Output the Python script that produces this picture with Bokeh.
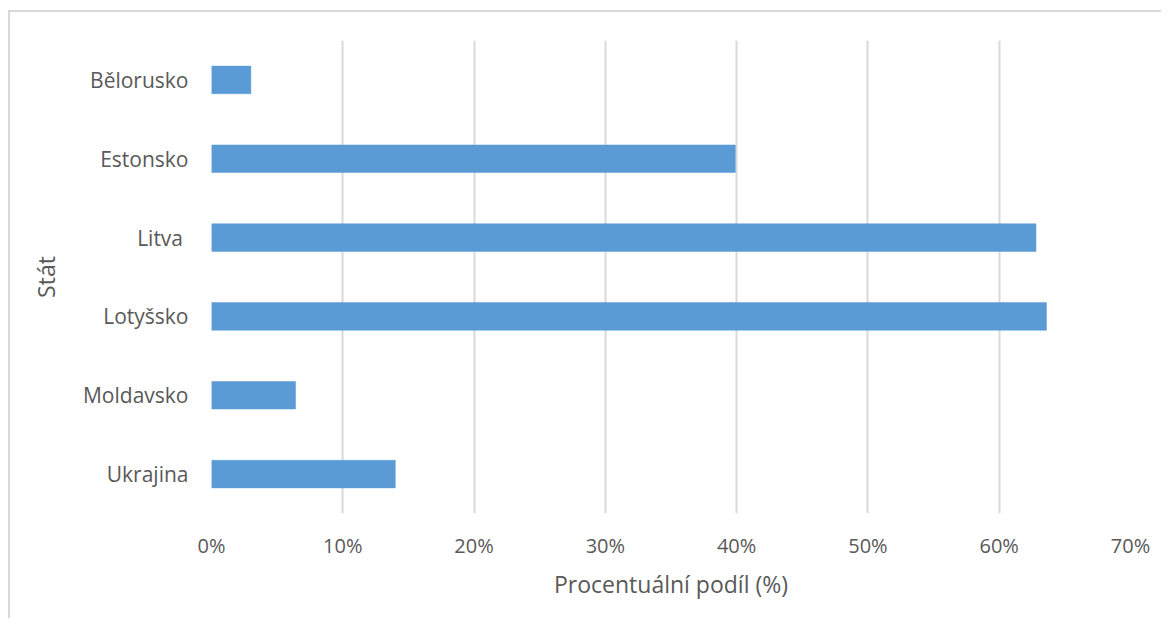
from bokeh.plotting import figure
from bokeh.models import ColumnDataSource, NumeralTickFormatter, FixedTicker
from bokeh.embed import file_html
from bokeh.resources import INLINE

countries = ["Bělorusko", "Estonsko", "Litva ", "Lotyšsko", "Moldavsko", "Ukrajina"]
shares = [0.030, 0.399, 0.628, 0.636, 0.064, 0.140]
x_ticks = [0, 0.1, 0.2, 0.3, 0.4, 0.5, 0.6, 0.7]

FONT = "Open Sans"
TXT = "#595959"

src = ColumnDataSource(dict(country=countries, share=shares))

p = figure(
    width=1153, height=608,
    y_range=list(reversed(countries)),
    x_range=(0, 0.7),
    output_backend="svg", toolbar_location=None,
    min_border_left=201, min_border_right=33,
    min_border_top=28, min_border_bottom=107,
)
p.margin = (10, 0, 0, 8)
p.styles = {"border-top": "2px solid #d9d9d9", "border-left": "2px solid #d9d9d9"}

p.hbar(y="country", right="share", left=0, height=0.35, source=src,
       fill_color="#5b9bd5", line_color="#5b9bd5", line_width=0.5)

p.outline_line_color = None
p.background_fill_color = "white"
p.border_fill_color = "white"

p.ygrid.grid_line_color = None
p.xgrid.grid_line_color = "#d9d9d9"
p.xgrid.grid_line_width = 2
p.xaxis.ticker = FixedTicker(ticks=x_ticks)
p.xaxis.formatter = NumeralTickFormatter(format="0%")

for ax in (p.xaxis, p.yaxis):
    ax.axis_line_color = None
    ax.major_tick_line_color = None
    ax.minor_tick_line_color = None
    ax.major_label_text_font = FONT
    ax.major_label_text_color = TXT
    ax.axis_label_text_font = FONT
    ax.axis_label_text_color = TXT
    ax.axis_label_text_font_style = "normal"

p.xaxis.major_label_text_font_size = "20px"
p.yaxis.major_label_text_font_size = "21px"
p.xaxis.major_label_standoff = 12
p.yaxis.major_label_standoff = 17
p.xaxis.axis_label = "Procentuální podíl (%)"
p.yaxis.axis_label = "Stát"
p.xaxis.axis_label_text_font_size = "23px"
p.yaxis.axis_label_text_font_size = "23px"
p.xaxis.axis_label_standoff = 6
p.yaxis.axis_label_standoff = 18

open("out.html", "w").write(file_html(p, INLINE))
